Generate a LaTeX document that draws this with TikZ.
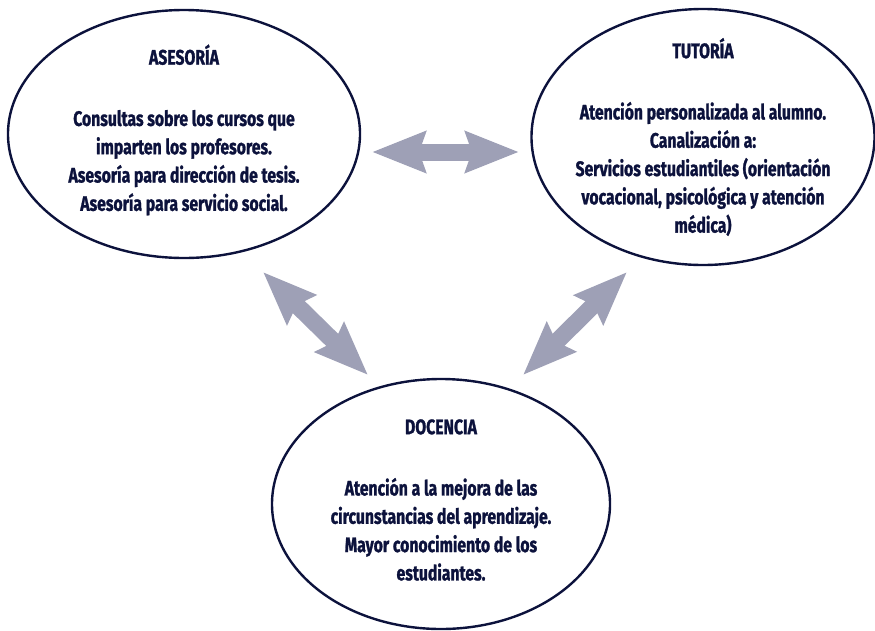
\documentclass[tikz,border=0pt]{standalone}
\usepackage{fontspec}
\setmainfont[FakeStretch=0.75, BoldFeatures={FakeBold=1.2}]{Fira Sans}
\usetikzlibrary{shapes.geometric,arrows.meta}
\definecolor{azul}{RGB}{12,18,60}
\definecolor{gris}{RGB}{158,160,182}
\begin{document}
\begin{tikzpicture}[x=1pt, y=-1pt, line join=round,
    font=\bfseries\fontsize{21}{28.3}\selectfont, text=azul,
    globo/.style={draw=azul, line width=2.4pt, ellipse, inner sep=0pt},
    texto/.style={align=center, inner sep=0pt},
    punta/.tip={Stealth[length=53pt, width=40pt, inset=6pt]},
    doble/.style={draw=gris, line width=17pt, punta-punta}]
  \def\hueco{33pt} % espacio bajo el titulo
  \useasboundingbox (0,0) rectangle (875,630);
  % elipses
  \node[globo, minimum width=352pt, minimum height=248pt] (ases) at (184,134) {};
  \node[globo, minimum width=343pt, minimum height=256pt] (tuto) at (703,137) {};
  \node[globo, minimum width=338pt, minimum height=250pt] (doce) at (441,504) {};
  % textos
  \node[texto] (tases) at ([yshift=4pt]ases.center) {ASESORÍA\\[\hueco]
    Consultas sobre los cursos que\\ imparten los profesores.\\
    Asesoría para dirección de tesis.\\ Asesoría para servicio social.};
  \node[texto] (ttuto) at (tuto.center) {TUTORÍA\\[\hueco]
    Atención personalizada al alumno.\\ Canalización a:\\
    Servicios estudiantiles (orientación\\ vocacional, psicológica y atención\\ médica)};
  \node[texto] (tdoce) at ([yshift=4pt]doce.center) {DOCENCIA\\[\hueco]
    Atención a la mejora de las\\ circunstancias del aprendizaje.\\
    Mayor conocimiento de los\\ estudiantes.};
  % flechas
  \coordinate (h1) at (372,152); \coordinate (h2) at (519,152);
  \coordinate (i1) at (263,272); \coordinate (i2) at (368,375);
  \coordinate (d1) at (627,272); \coordinate (d2) at (523,375);
  \draw[doble] (h1) -- (h2);
  \draw[doble] (i1) -- (i2);
  \draw[doble] (d1) -- (d2);
\end{tikzpicture}
\end{document}
